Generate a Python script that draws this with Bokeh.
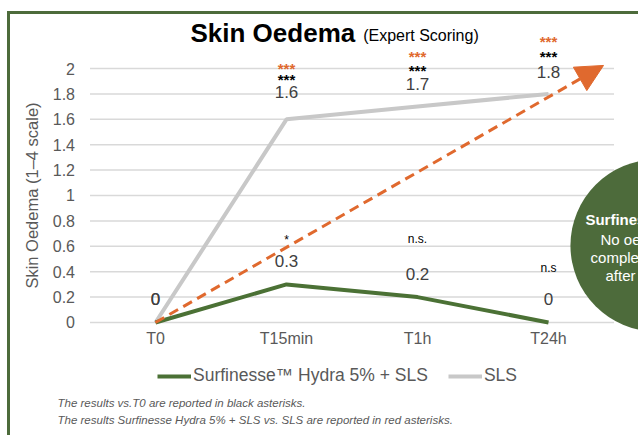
from bokeh.plotting import figure
from bokeh.models import (Range1d, FixedTicker, NumeralTickFormatter, Legend, LegendItem,
                          Label, Arrow, NormalHead)
from bokeh.core.properties import value
from bokeh.embed import file_html
from bokeh.resources import INLINE

# ---------------- data ----------------
times = ["T0", "T15min", "T1h", "T24h"]
hydra = [0, 0.3, 0.2, 0]          # Surfinesse Hydra 5% + SLS
sls = [0, 1.6, 1.7, 1.8]          # SLS
hydra_vs_t0 = ["", "*", "n.s.", "n.s"]
sls_vs_t0 = ["", "***", "***", "***"]
hydra_vs_sls = ["", "***", "***", "***"]
y_ticks = [0, 0.2, 0.4, 0.6, 0.8, 1, 1.2, 1.4, 1.6, 1.8, 2]
trend_x = [0, 3.42]
trend_y = [0, 2.024]
bubble_lines = ["Surfinesse™", "No oedema", "completely", "after 24h"]

FONT = "Liberation Sans"
GREEN = "#4b7135"
DARKGREEN = "#4d6b3b"
GREY = "#c8c8c8"
ORANGE = "#e0692e"
TXT = "#595959"

xpos = list(range(len(times)))

p = figure(width=631, height=424, output_backend="svg", toolbar_location=None,
           x_range=Range1d(-1.1069, 3.7099), y_range=Range1d(-0.9134, 2.4252),
           min_border_left=0, min_border_right=0, min_border_top=0, min_border_bottom=0)
p.styles = {"border-left": "3px solid " + DARKGREEN, "border-top": "3px solid " + DARKGREEN,
            "position": "relative", "top": "11px", "left": "7px"}
p.outline_line_color = None
p.xgrid.visible = False
p.ygrid.visible = False

# axes (drawn inside the frame at fixed locations)
p.yaxis.fixed_location = -0.5
p.yaxis.bounds = (0, 2)
p.yaxis.ticker = FixedTicker(ticks=y_ticks)
p.yaxis.formatter = NumeralTickFormatter(format="0.[0]")
p.yaxis.axis_label = "Skin Oedema (1–4 scale)"
p.yaxis.axis_label_text_font = FONT
p.yaxis.axis_label_text_font_style = "normal"
p.yaxis.axis_label_text_font_size = "16.5px"
p.yaxis.axis_label_text_color = TXT
p.yaxis.axis_label_standoff = 9
p.yaxis.major_label_standoff = 15
p.xaxis.fixed_location = 0
p.xaxis.bounds = (-0.5, 3.5)
p.xaxis.ticker = FixedTicker(ticks=xpos)
p.xaxis.major_label_overrides = {i: t for i, t in zip(xpos, times)}
p.xaxis.major_label_standoff = 8
for ax in (p.xaxis, p.yaxis):
    ax.axis_line_color = None
    ax.major_tick_line_color = None
    ax.minor_tick_line_color = None
    ax.major_tick_out = 0
    ax.major_tick_in = 0
    ax.minor_tick_out = 0
    ax.minor_tick_in = 0
    ax.major_label_text_font = FONT
    ax.major_label_text_font_size = "16px"
    ax.major_label_text_color = TXT

# gridlines (limited to category span)
p.segment(x0=[-0.5] * len(y_ticks), x1=[3.5] * len(y_ticks), y0=y_ticks, y1=y_ticks,
          line_color="#d9d9d9", line_width=1.5)

# bubble
p.scatter(x=[3.824], y=[0.606], size=172, fill_color=DARKGREEN, line_color=None)
bx = [3.282, 3.397, 3.321, 3.435]
by = [0.81, 0.652, 0.515, 0.37]
p.text(x=bx[:1], y=by[:1], text=bubble_lines[:1], text_font=value(FONT), text_font_size="15px",
       text_font_style="bold", text_color="white", text_baseline="middle", text_align="left")
p.text(x=bx[1:], y=by[1:], text=bubble_lines[1:], text_font=value(FONT), text_font_size="15px",
       text_color="white", text_baseline="middle", text_align="left")

# series
r_s = p.line(xpos, sls, line_color=GREY, line_width=4)
r_h = p.line(xpos, hydra, line_color=GREEN, line_width=4)

# trend arrow
p.add_layout(Arrow(x_start=trend_x[0], y_start=trend_y[0], x_end=trend_x[1], y_end=trend_y[1],
                   line_color=ORANGE, line_width=3, line_dash="10 6",
                   end=NormalHead(size=27, fill_color=ORANGE, line_color=ORANGE, line_width=1)))

# data labels
p.text(x=xpos, y=sls, text=[str(v) for v in sls], text_font=value(FONT), text_font_size="17px",
       text_color="#404040", text_align="center", text_baseline="middle",
       y_offset=[-23, -27, -23, -22])
p.text(x=xpos, y=hydra, text=[str(v) for v in hydra], text_font=value(FONT), text_font_size="17px",
       text_color="#404040", text_align="center", text_baseline="middle", y_offset=-23)

# significance marks
p.text(x=xpos, y=sls, text=sls_vs_t0, text_font=value(FONT), text_font_size="15px",
       text_font_style="bold", text_color="black", text_align="center", text_baseline="middle",
       y_offset=[0, -40, -36, -37])
p.text(x=xpos, y=sls, text=hydra_vs_sls, text_font=value(FONT), text_font_size="15px",
       text_font_style="bold", text_color=ORANGE, text_align="center", text_baseline="middle",
       y_offset=[0, -51, -50, -52])
p.text(x=xpos, y=hydra, text=hydra_vs_t0, text_font=value(FONT), text_font_size="12px",
       text_color="black", text_align="center", text_baseline="middle",
       y_offset=[0, -44, -58, -54])

# title
p.add_layout(Label(x=0.267, y=2.276, text="Skin Oedema", text_font=FONT, text_font_size="26px",
                   text_font_style="bold", text_color="black", text_baseline="middle"))
p.add_layout(Label(x=1.585, y=2.26, text="(Expert Scoring)", text_font=FONT, text_font_size="16px",
                   text_color="black", text_baseline="middle"))

# legend
legend = Legend(items=[LegendItem(label="Surfinesse™ Hydra 5% + SLS", renderers=[r_h]),
                       LegendItem(label="SLS", renderers=[r_s])],
                orientation="horizontal", location=(147, 52), glyph_width=34, glyph_height=20,
                label_standoff=2, spacing=20, padding=0, margin=0, border_line_color=None,
                background_fill_alpha=0, label_text_font=FONT, label_text_font_size="17.5px",
                label_text_color=TXT)
p.add_layout(legend)

# notes
notes = ["The results vs.T0 are reported in black asterisks.",
         "The results Surfinesse Hydra 5% + SLS vs. SLS are reported in red asterisks."]
for txt, yy in zip(notes, [-0.630, -0.764]):
    p.add_layout(Label(x=-0.748, y=yy, text=txt, text_font=FONT, text_font_size="11.5px",
                       text_font_style="italic", text_color=TXT, text_baseline="middle"))

open("out.html", "w").write(file_html(p, INLINE))
